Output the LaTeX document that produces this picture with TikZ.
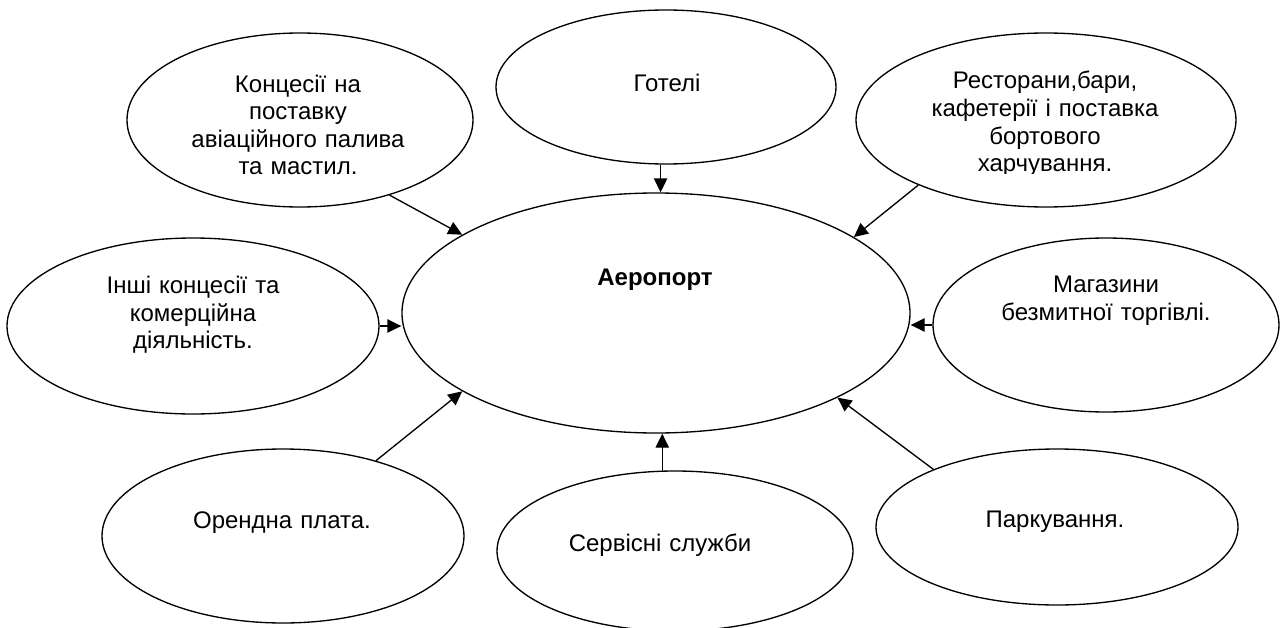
\documentclass[tikz,border=0pt]{standalone}
\usepackage{fontspec}
\setmainfont{Liberation Sans}
\usetikzlibrary{shapes.geometric,arrows.meta}
\begin{document}
\begin{tikzpicture}[x=0.75pt,y=-0.75pt,
        oval/.style={draw,ellipse,line width=1pt,inner sep=0pt},
        txt/.style={align=center,text width=240pt,inner sep=0pt,font=\fontsize{18}{20.7}\selectfont},
        arr/.style={line width=1pt,-{Triangle[length=10.5pt,width=10pt]}}]
        \useasboundingbox (0,0) rectangle (1283,628);
        \node[oval,minimum width=381pt,minimum height=180pt] (aero) at (656,313) {};
        \node[oval,minimum width=259.5pt,minimum height=130.5pt] (konc) at (300,120) {};
        \node[oval,minimum width=255pt,minimum height=115.5pt] (hotel) at (666,87) {};
        \node[oval,minimum width=285pt,minimum height=130.5pt] (rest) at (1046,120) {};
        \node[oval,minimum width=279pt,minimum height=132pt] (inshi) at (193,326) {};
        \node[oval,minimum width=259.5pt,minimum height=130.5pt] (shop) at (1106,325) {};
        \node[oval,minimum width=271.5pt,minimum height=130.5pt] (rent) at (283,536) {};
        \node[oval,minimum width=267pt,minimum height=120pt] (serv) at (675,551) {};
        \node[oval,minimum width=271.5pt,minimum height=117pt] (park) at (1057,527) {};
        \draw[arr] (konc.-40) -- (aero.158);
        \draw[arr] (hotel.-94) -- (hotel.-94 |- aero.north);
        \draw[arr] (rest.-153) -- (aero.21);
        \draw[arr] (inshi.east) -- (inshi.east -| aero.west);
        \draw[arr] (shop.west) -- (shop.west -| aero.east);
        \draw[arr] (rent.39) -- (aero.-158);
        \draw[arr] (serv.99) -- (serv.99 |- aero.south);
        \draw[arr] (park.155) -- (aero.-25);
        \node[txt] (konc-t) at (298,125) {Концесії на\\поставку\\авіаційного палива\\та мастил.};
        \node[txt] (hotel-t) at (667,83) {Готелі};
        \begin{scope}
        \clip (850,30) rectangle (1240,173);
        \node[txt] (rest-t) at (1045,124) {Ресторани,бари,\\кафетерії і поставка\\бортового\\харчування.};
        \end{scope}
        \node[txt] (inshi-t) at (193,315) {Інші концесії та\\комерційна\\діяльність.};
        \node[txt] (shop-t) at (1106,301) {Магазини\\безмитної торгівлі.};
        \node[txt,font=\fontsize{18}{20.7}\selectfont\bfseries] (aero-t) at (655,280) {Аеропорт};
        \node[txt] (rent-t) at (282,523) {Орендна плата.};
        \node[txt] (serv-t) at (660,545) {Сервісні служби};
        \node[txt] (park-t) at (1055,522) {Паркування.};
\end{tikzpicture}
\end{document}
